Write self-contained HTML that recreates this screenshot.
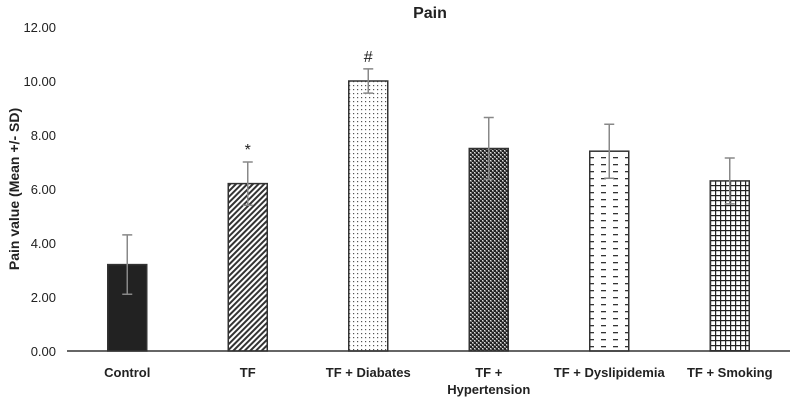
<!DOCTYPE html>
<html><head><meta charset="utf-8"><style>
body{margin:0;background:#fff}
svg text{font-family:"Liberation Sans",Arial,sans-serif;fill:#222}
</style></head><body>
<svg id="chart" width="797" height="400">
<defs>
<pattern id="p-diag" width="4" height="4" patternUnits="userSpaceOnUse" patternTransform="rotate(45)"><rect width="4" height="4" fill="#fff"/><rect width="2" height="4" fill="#333"/></pattern>
<pattern id="p-dots" width="4" height="4" patternUnits="userSpaceOnUse"><rect width="4" height="4" fill="#fff"/><rect x="1" y="1" width="1.2" height="1.2" fill="#555"/></pattern>
<pattern id="p-check" width="4" height="4" patternUnits="userSpaceOnUse"><rect width="4" height="4" fill="#777"/><rect width="2" height="2" fill="#222"/><rect x="2" y="2" width="2" height="2" fill="#222"/><rect x="2" y="0" width="1" height="1" fill="#ddd"/><rect x="0" y="2" width="1" height="1" fill="#ddd"/></pattern>
<pattern id="p-dash" width="12" height="7" patternUnits="userSpaceOnUse"><rect width="12" height="7" fill="#fff"/><rect x="1" y="3" width="5" height="1.3" fill="#333"/><rect x="7" y="0" width="0" height="0"/></pattern>
<pattern id="p-grid" width="5" height="5" patternUnits="userSpaceOnUse"><rect width="5" height="5" fill="#fff"/><rect width="1.2" height="5" fill="#222"/><rect width="5" height="1.2" fill="#222"/></pattern>
</defs>
<text x="430" y="18" font-size="16" font-weight="bold" text-anchor="middle">Pain</text>
<text transform="translate(19,189) rotate(-90)" font-size="14" font-weight="bold" text-anchor="middle">Pain value (Mean +/- SD)</text>
<g id="ticks"></g><g id="bars"></g><g id="cats"></g>
</svg>
<script>
const categories=["Control","TF","TF + Diabates","TF + Hypertension","TF + Dyslipidemia","TF + Smoking"];
const values=[3.2,6.2,10.0,7.5,7.4,6.3];
const sds=[1.1,0.8,0.45,1.15,1.0,0.85];
const marks=["","*","#","","",""];
const tickVals=[0,2,4,6,8,10,12];
const fills=["#222","url(#p-diag)","url(#p-dots)","url(#p-check)","url(#p-dash)","url(#p-grid)"];
const NS="http://www.w3.org/2000/svg";
const x0=67,x1=790,y0=351,y12=27;
const step=(x1-x0)/categories.length,bw=39;
const ys=v=>y0-(v/12)*(y0-y12);
const xc=i=>x0+step*(i+0.5);
function mk(t,a,p){const e=document.createElementNS(NS,t);for(const k in a)e.setAttribute(k,a[k]);p.appendChild(e);return e;}
const tg=document.getElementById('ticks'),bg=document.getElementById('bars'),cg=document.getElementById('cats');
tickVals.forEach(v=>{const t=mk('text',{x:56,y:ys(v)+5,'font-size':13,'text-anchor':'end'},tg);t.textContent=v.toFixed(2);

});
categories.forEach((c,i)=>{
const r=mk('rect',{x:xc(i)-bw/2,y:ys(values[i]),width:bw,height:y0-ys(values[i]),fill:fills[i],stroke:'#333','stroke-width':1.5},bg);


const e=mk('path',{d:`M${xc(i)} ${ys(values[i]-sds[i])}V${ys(values[i]+sds[i])}M${xc(i)-5} ${ys(values[i]-sds[i])}h10M${xc(i)-5} ${ys(values[i]+sds[i])}h10`,stroke:'#888','stroke-width':1.5,fill:'none'},bg);


if(marks[i]){const m=mk('text',{x:xc(i),y:ys(values[i]+sds[i])-7,'font-size':16,'text-anchor':'middle'},bg);m.textContent=marks[i];

}
const words=c==="TF + Hypertension"?["TF +","Hypertension"]:[c];
const t=mk('text',{x:xc(i),y:377,'font-size':13,'font-weight':'bold','text-anchor':'middle'},cg);
words.forEach((w,j)=>{const s=mk('tspan',{x:xc(i),dy:j?17:0},t);s.textContent=w;});


});
const ax=mk('line',{x1:x0,x2:x1,y1:y0,y2:y0,stroke:'#333','stroke-width':1.5},bg);


</script>
</body></html>
